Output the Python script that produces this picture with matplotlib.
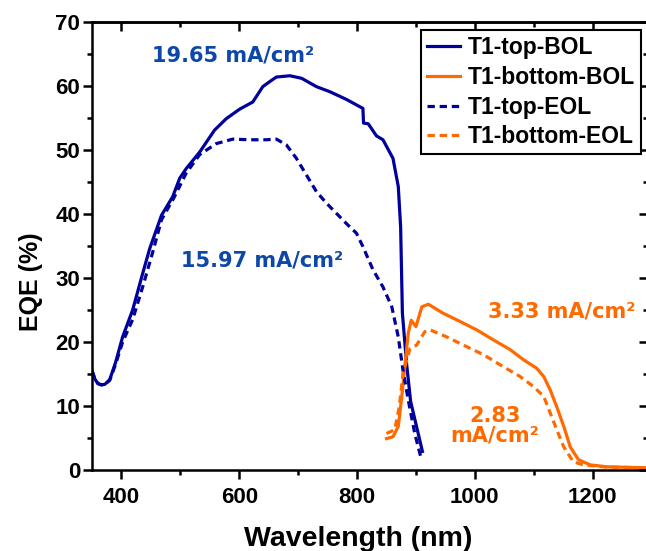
import matplotlib
matplotlib.use("Agg")
import matplotlib.pyplot as plt
from matplotlib.ticker import MultipleLocator

# ---- data ----
top_bol_x = [350, 355, 360, 366, 372, 380, 390, 402, 419, 436, 448, 468, 487, 499, 510, 533,
             558, 578, 601, 623, 640, 652, 663, 686, 706, 731, 754, 782, 810, 811, 819, 833,
             844, 861, 870, 874, 877, 884, 891, 901, 911]
top_bol_y = [15.5, 14.2, 13.5, 13.3, 13.4, 14.1, 16.8, 20.8, 25.0, 30.7, 34.6, 39.8, 42.7,
             45.6, 47.1, 49.7, 53.1, 54.9, 56.4, 57.5, 59.9, 60.7, 61.4, 61.6, 61.2, 59.9,
             59.1, 57.9, 56.5, 54.2, 54.1, 52.2, 51.6, 48.7, 44.3, 38.0, 24.5, 16.7, 10.7,
             6.8, 2.9]

top_eol_x = [350, 355, 360, 366, 372, 380, 390, 402, 419, 436, 453, 468, 490, 510, 533, 561,
             589, 618, 646, 663, 680, 697, 714, 731, 748, 765, 782, 799, 810, 827, 844, 859,
             870, 878, 887, 898, 908]
top_eol_y = [15.5, 14.2, 13.5, 13.3, 13.4, 14.0, 16.5, 20.0, 23.5, 28.6, 34.0, 39.1, 42.7,
             46.4, 49.3, 51.0, 51.7, 51.6, 51.6, 51.7, 50.8, 48.7, 46.1, 43.5, 41.7, 40.1,
             38.5, 37.0, 34.9, 31.3, 28.6, 25.5, 20.8, 15.6, 10.9, 5.7, 2.1]

bot_bol_x = [850, 861, 870, 876, 881, 887, 892, 900, 910, 921, 946, 975, 1003, 1032, 1060,
             1083, 1105, 1117, 1128, 1139, 1151, 1162, 1176, 1196, 1224, 1290]
bot_bol_y = [4.9, 5.2, 6.8, 11.5, 16.1, 21.4, 23.4, 22.4, 25.5, 25.9, 24.5, 23.2, 21.9,
             20.3, 18.8, 17.2, 15.9, 14.6, 12.5, 9.9, 6.8, 3.6, 1.6, 0.8, 0.5, 0.35]

bot_eol_x = [850, 864, 872, 878, 890, 901, 915, 924, 952, 981, 1015, 1049, 1077, 1100,
             1117, 1128, 1139, 1151, 1167, 1184, 1224, 1290]
bot_eol_y = [5.7, 6.3, 10.0, 15.1, 19.0, 19.5, 21.6, 21.9, 20.8, 19.5, 18.0, 16.1, 14.6,
             13.0, 11.5, 8.9, 6.3, 3.6, 1.3, 0.8, 0.45, 0.35]

series_labels = ["T1-top-BOL", "T1-bottom-BOL", "T1-top-EOL", "T1-bottom-EOL"]
annotations = ["19.65 mA/cm\u00b2", "15.97 mA/cm\u00b2", "3.33 mA/cm\u00b2", "2.83\nmA/cm\u00b2"]
annot_x = [590, 638, 1148, 1034]
annot_y = [64.8, 32.7, 24.7, 6.9]

blue = "#00009C"
orange = "#FF6A00"
txt_blue = "#0D47A8"
annot_colors = [txt_blue, txt_blue, orange, orange]

# ---- figure ----
fig = plt.figure(figsize=(6.46, 5.51), dpi=100)
ax = fig.add_axes([92 / 646, 1 - 470 / 551, (648 - 92) / 646, (470 - 22) / 551])

lw = 2.3
dash = (0, (2.3, 1.5))
l1, = ax.plot(top_bol_x, top_bol_y, color=blue, lw=lw, label=series_labels[0])
l2, = ax.plot(bot_bol_x, bot_bol_y, color=orange, lw=lw, label=series_labels[1])
l3, = ax.plot(top_eol_x, top_eol_y, color=blue, lw=lw, ls=dash, label=series_labels[2])
l4, = ax.plot(bot_eol_x, bot_eol_y, color=orange, lw=lw, ls=dash, label=series_labels[3])

ax.set_xlim(350, 1294)
ax.set_ylim(0, 70)

ax.xaxis.set_major_locator(MultipleLocator(200))
ax.xaxis.set_minor_locator(MultipleLocator(100))
ax.yaxis.set_major_locator(MultipleLocator(10))
ax.yaxis.set_minor_locator(MultipleLocator(5))

for s in ax.spines.values():
    s.set_linewidth(1.8)

tickfont = "Liberation Sans"
ax.tick_params(axis="both", which="major", length=6.5, width=1.8, labelsize=16, direction="out")
ax.tick_params(axis="both", which="minor", length=3.5, width=1.8, direction="out")
ax.tick_params(axis="x", which="major", pad=6)
ax.tick_params(axis="y", which="major", pad=2)

# mirrored inward ticks on top/right
axt = ax.secondary_xaxis("top")
axt.xaxis.set_major_locator(MultipleLocator(200))
axt.xaxis.set_minor_locator(MultipleLocator(100))
axt.tick_params(which="major", direction="in", length=6.5, width=1.8, labeltop=False)
axt.tick_params(which="minor", direction="in", length=3.5, width=1.8)
axt.set_xticklabels([])
axr = ax.secondary_yaxis("right")
axr.yaxis.set_major_locator(MultipleLocator(10))
axr.yaxis.set_minor_locator(MultipleLocator(5))
axr.tick_params(which="major", direction="in", length=6.5, width=1.8, labelright=False)
axr.tick_params(which="minor", direction="in", length=3.5, width=1.8)
axr.set_yticklabels([])
for sec in (axt, axr):
    for s in sec.spines.values():
        s.set_linewidth(1.8)

for lab in ax.get_xticklabels() + ax.get_yticklabels():
    lab.set_fontfamily(tickfont)
    lab.set_fontweight("bold")

ax.set_xlabel("Wavelength (nm)", fontsize=20.5, fontweight="bold", family=tickfont)
ax.xaxis.set_label_coords(0.478, -0.124)
ax.set_ylabel("EQE (%)", fontsize=18, fontweight="bold", family=tickfont)
ax.yaxis.set_label_coords(-0.089, 0.42)

for t, x, y, c in zip(annotations, annot_x, annot_y, annot_colors):
    ax.text(x, y, t, color=c, fontsize=15, fontweight="bold", family="DejaVu Sans",
            ha="center", va="center", linespacing=1.0)

leg = ax.legend(handles=[l1, l2, l3, l4], loc="upper right", bbox_to_anchor=(0.9875, 0.982),
                prop={"family": tickfont, "weight": "bold", "size": 16.5},
                frameon=True, fancybox=False, framealpha=1, edgecolor="black",
                handlelength=1.45, handletextpad=0.35, borderpad=0.25, labelspacing=0.3,
                borderaxespad=0.0)
leg.get_frame().set_linewidth(1.5)

fig.savefig("out.png", dpi=100)
